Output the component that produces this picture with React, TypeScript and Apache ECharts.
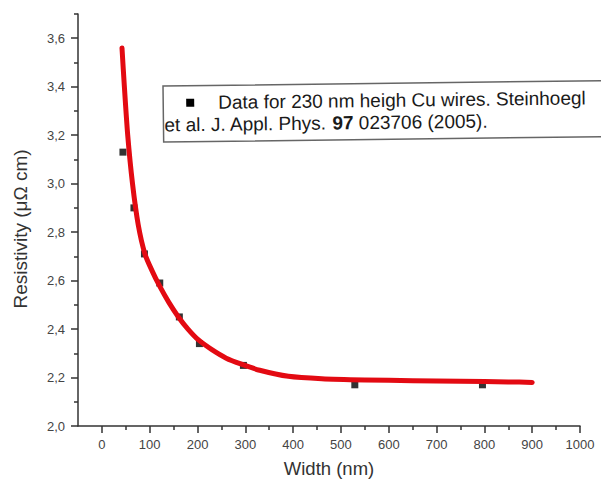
import React, { useEffect, useRef } from "react";
import * as echarts from "echarts";

// Measured data points (width nm, resistivity µΩ cm)
const dataWidth = [44, 67, 89, 121, 162, 204, 296, 529, 796];
const dataRho = [3.13, 2.9, 2.71, 2.59, 2.45, 2.34, 2.25, 2.17, 2.17];

// Fitted curve
const fitWidth = [42, 47, 54, 64, 76, 90, 105, 120, 140, 160, 180, 202, 230, 260, 292, 330, 390, 460, 550, 650, 750, 850, 900];
const fitRho = [3.56, 3.4, 3.2, 3.0, 2.83, 2.71, 2.64, 2.58, 2.51, 2.45, 2.4, 2.355, 2.315, 2.28, 2.255, 2.23, 2.205, 2.195, 2.19, 2.187, 2.185, 2.182, 2.18];

// Tick values
const xMajorTicks = [0, 100, 200, 300, 400, 500, 600, 700, 800, 900, 1000];
const xMinorTicks = [50, 150, 250, 350, 450, 550, 650, 750, 850, 950];
const yMajorTicks = [2.0, 2.2, 2.4, 2.6, 2.8, 3.0, 3.2, 3.4, 3.6];
const yMinorTicks = [2.1, 2.3, 2.5, 2.7, 2.9, 3.1, 3.3, 3.5, 3.7];

const legendLine1 = "Data for 230 nm heigh Cu wires. Steinhoegl";
const legendLine2 = "et al. J. Appl. Phys. {b|97} 023706 (2005).";

const FONT = "Arial, 'Liberation Sans', sans-serif";
const AXIS_COLOR = "#333";
const LABEL_COLOR = "#444";

export default function App() {
  const ref = useRef<HTMLDivElement>(null);
  useEffect(() => {
    if (!ref.current) return;
    const chart = echarts.init(ref.current, undefined, { renderer: "svg" });
    const fmtY = (v: number) => v.toFixed(1).replace(".", ",");
    const fmtX = (v: number) => String(Math.round(v));
    chart.setOption({
      animation: false,
      backgroundColor: "#fff",
      grid: { left: 78, right: 21, top: 14, bottom: 58, containLabel: false },
      xAxis: [
        {
          type: "value",
          min: -50,
          max: 1000,
          position: "bottom",
          name: "Width (nm)",
          nameLocation: "middle",
          nameGap: 33,
          nameTextStyle: { fontFamily: FONT, fontSize: 18.5, color: "#333" },
          axisLine: { show: true, onZero: false, lineStyle: { color: AXIS_COLOR, width: 1.5 } },
          axisTick: { show: true, length: 7, customValues: xMajorTicks, lineStyle: { color: AXIS_COLOR, width: 1.5 } },
          axisLabel: { customValues: xMajorTicks, formatter: fmtX, margin: 12, fontFamily: FONT, fontSize: 13, color: LABEL_COLOR },
          splitLine: { show: false },
        },
        {
          type: "value",
          min: -50,
          max: 1000,
          position: "bottom",
          axisLine: { show: false, onZero: false },
          axisTick: { show: true, length: 4, customValues: xMinorTicks, lineStyle: { color: AXIS_COLOR, width: 1.5 } },
          axisLabel: { show: false },
          splitLine: { show: false },
        },
      ],
      yAxis: [
        {
          type: "value",
          min: 2.0,
          max: 3.7,
          position: "left",
          name: "Resistivity (\u03bc\u03a9 cm)",
          nameLocation: "middle",
          nameGap: 48,
          nameTextStyle: { fontFamily: FONT, fontSize: 19, color: "#333", padding: [0, 18, 0, 0] },
          axisLine: { show: true, onZero: false, lineStyle: { color: AXIS_COLOR, width: 1.5 } },
          axisTick: { show: true, length: 7, customValues: yMajorTicks, lineStyle: { color: AXIS_COLOR, width: 1.5 } },
          axisLabel: { customValues: yMajorTicks, margin: 13, formatter: fmtY, fontFamily: FONT, fontSize: 13, color: LABEL_COLOR },
          splitLine: { show: false },
        },
        {
          type: "value",
          min: 2.0,
          max: 3.7,
          position: "left",
          axisLine: { show: false, onZero: false },
          axisTick: { show: true, length: 4, customValues: yMinorTicks, lineStyle: { color: AXIS_COLOR, width: 1.5 } },
          axisLabel: { show: false },
          splitLine: { show: false },
        },
      ],
      series: [
        {
          type: "scatter",
          name: "Data",
          xAxisIndex: 0,
          yAxisIndex: 0,
          symbol: "rect",
          symbolSize: 7,
          itemStyle: { color: "#000" },
          z: 2,
          data: dataWidth.map((w, i) => [w, dataRho[i]]),
        },
        {
          type: "line",
          name: "Fit",
          xAxisIndex: 0,
          yAxisIndex: 0,
          smooth: 0.25,
          showSymbol: false,
          lineStyle: { color: "#e30a12", width: 5, cap: "round", join: "round" },
          z: 3,
          data: fitWidth.map((w, i) => [w, fitRho[i]]),
        },
      ],
      graphic: [
        {
          type: "group",
          x: 163,
          y: 86,
          rotation: 0.012,
          z: 10,
          children: [
            {
              type: "rect",
              shape: { x: 0, y: 0, width: 450, height: 56 },
              style: { fill: "#fff", stroke: "#666", lineWidth: 1.5 },
            },
            {
              type: "rect",
              shape: { x: 23, y: 13, width: 8, height: 8 },
              style: { fill: "#000" },
            },
            {
              type: "text",
              x: 55,
              y: 17,
              style: {
                text: legendLine1,
                fontFamily: FONT,
                fontSize: 19,
                fill: "#1a1a1a",
                verticalAlign: "middle",
              },
            },
            {
              type: "text",
              x: 1,
              y: 39,
              style: {
                text: legendLine2,
                fontFamily: FONT,
                fontSize: 19,
                fill: "#1a1a1a",
                verticalAlign: "middle",
                rich: {
                  b: { fontFamily: FONT, fontSize: 19, fontWeight: "bold", fill: "#1a1a1a" },
                },
              },
            },
          ],
        },
      ],
    });
    return () => chart.dispose();
  }, []);
  return (
    <div
      ref={ref}
      style={{ position: "fixed", left: 0, top: 0, width: 601, height: 484 }}
    />
  );
}
